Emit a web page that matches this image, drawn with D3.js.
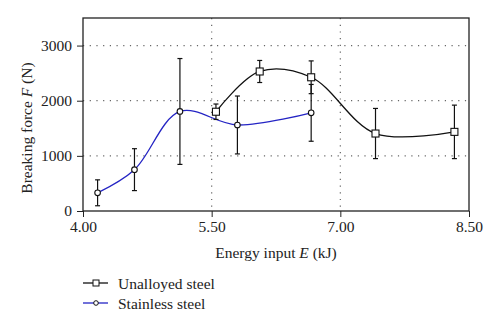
<!DOCTYPE html>
<html>
<head>
<meta charset="utf-8">
<script src="https://cdn.jsdelivr.net/npm/d3@7"></script>
<style>
  body { margin: 0; background: #fff; }
  svg { font-family: "Liberation Serif", "DejaVu Serif", serif; }
</style>
</head>
<body>
<div id="chart"></div>
<script>
// energy input (kJ) and breaking force (N)
var unalloyedE = [5.55, 6.06, 6.66, 7.41, 8.33];
var unalloyedF = [1800, 2530, 2425, 1405, 1435];
var unalloyedErr = [140, 200, 297, 455, 485];

var stainlessE = [4.17, 4.60, 5.13, 5.80, 6.66];
var stainlessF = [330, 750, 1805, 1560, 1780];
var stainlessErr = [235, 380, 960, 525, 515];

var xTicks = [4.0, 5.5, 7.0, 8.5];
var yTicks = [0, 1000, 2000, 3000];
var seriesNames = ['Unalloyed steel', 'Stainless steel'];

var W = 500, H = 326;
var margin = {top: 18, right: 31, bottom: 115, left: 83};
var w = W - margin.left - margin.right;
var h = H - margin.top - margin.bottom;

var svg = d3.select('#chart').append('svg')
  .attr('width', W)
  .attr('height', H);

var g = svg.append('g')
  .attr('transform', 'translate(' + margin.left + ',' + margin.top + ')');

var x = d3.scaleLinear().domain([4, 8.5]).range([0, w]);
var y = d3.scaleLinear().domain([0, 3500]).range([h, 0]);

// dotted grid
g.selectAll('.hgrid').data(yTicks.slice(1)).enter().append('line')
  .attr('x1', 0).attr('x2', w)
  .attr('y1', function(d) { return y(d); })
  .attr('y2', function(d) { return y(d); })
  .attr('stroke', '#666').attr('stroke-width', 1.2)
  .attr('stroke-dasharray', '1.2,5.5');
g.selectAll('.vgrid').data(xTicks.slice(1, 3)).enter().append('line')
  .attr('y1', 0).attr('y2', h)
  .attr('x1', function(d) { return x(d); })
  .attr('x2', function(d) { return x(d); })
  .attr('stroke', '#666').attr('stroke-width', 1.2)
  .attr('stroke-dasharray', '1.2,5.5');

// axes
var xAxis = d3.axisBottom(x).tickValues(xTicks).tickFormat(d3.format('.2f'))
  .tickSizeInner(6).tickSizeOuter(0).tickPadding(4);
var yAxis = d3.axisLeft(y).tickValues(yTicks).tickFormat(d3.format('d'))
  .tickSizeInner(6).tickSizeOuter(0).tickPadding(5);

g.append('g').attr('transform', 'translate(0,' + h + ')').call(xAxis);
g.append('g').call(yAxis);
g.selectAll('.tick text').attr('font-size', 15.5).attr('fill', '#222')
  .attr('font-family', '"Liberation Serif", serif');
g.selectAll('.domain').remove();
g.selectAll('.tick line').attr('stroke', '#222');

g.append('rect')
  .attr('width', w).attr('height', h)
  .attr('fill', 'none').attr('stroke', '#222').attr('stroke-width', 1.3);

// axis titles
var xt = svg.append('text')
  .attr('x', margin.left + w / 2).attr('y', 258)
  .attr('text-anchor', 'middle').attr('font-size', 15.5).attr('fill', '#222');
xt.append('tspan').text('Energy input ');
xt.append('tspan').attr('font-style', 'italic').text('E');
xt.append('tspan').text(' (kJ)');

var yt = svg.append('text')
  .attr('transform', 'translate(32,128) rotate(-90)')
  .attr('text-anchor', 'middle').attr('font-size', 15.5).attr('fill', '#222');
yt.append('tspan').text('Breaking force ');
yt.append('tspan').attr('font-style', 'italic').text('F');
yt.append('tspan').text(' (N)');

var line = d3.line()
  .x(function(d) { return x(d[0]); })
  .y(function(d) { return y(d[1]); })
  .curve(d3.curveCatmullRom.alpha(0.5));

function drawSeries(E, F, err, color) {
  var pts = E.map(function(e, i) { return [e, F[i], err[i]]; });
  g.append('path').datum(pts)
    .attr('d', line)
    .attr('fill', 'none').attr('stroke', color).attr('stroke-width', 1.3);
  var eb = g.append('g');
  pts.forEach(function(p) {
    var cx = x(p[0]), top = y(p[1] + p[2]), bot = y(p[1] - p[2]);
    eb.append('line').attr('x1', cx).attr('x2', cx).attr('y1', top).attr('y2', bot)
      .attr('stroke', '#111').attr('stroke-width', 1.2);
    [top, bot].forEach(function(yy) {
      eb.append('line').attr('x1', cx - 2.5).attr('x2', cx + 2.5).attr('y1', yy).attr('y2', yy)
        .attr('stroke', '#111').attr('stroke-width', 1.2);
    });
  });
  return pts;
}

function drawMarkers(pts, marker) {
  pts.forEach(function(p) {
    var cx = x(p[0]), cy = y(p[1]);
    if (marker === 'square') {
      g.append('rect').attr('x', cx - 3.5).attr('y', cy - 3.5)
        .attr('width', 7).attr('height', 7)
        .attr('fill', '#fff').attr('stroke', '#111').attr('stroke-width', 1.1);
    } else {
      g.append('circle').attr('cx', cx).attr('cy', cy).attr('r', 2.8)
        .attr('fill', '#fff').attr('stroke', '#111').attr('stroke-width', 1.1);
    }
  });
}

var blue = '#2424c4';
var sPts = drawSeries(stainlessE, stainlessF, stainlessErr, blue);
var uPts = drawSeries(unalloyedE, unalloyedF, unalloyedErr, '#111');
drawMarkers(sPts, 'circle');
drawMarkers(uPts, 'square');

// legend
var legend = svg.append('g').attr('transform', 'translate(83,283)');
seriesNames.forEach(function(name, i) {
  var row = legend.append('g').attr('transform', 'translate(0,' + (i * 20) + ')');
  row.append('line').attr('x1', 0).attr('x2', 25).attr('y1', 0).attr('y2', 0)
    .attr('stroke', i === 0 ? '#111' : blue).attr('stroke-width', 1.3);
  if (i === 0) {
    row.append('rect').attr('x', 10).attr('y', -3).attr('width', 6).attr('height', 6)
      .attr('fill', '#fff').attr('stroke', '#111').attr('stroke-width', 1);
  } else {
    row.append('circle').attr('cx', 13).attr('cy', 0).attr('r', 2.3)
      .attr('fill', '#fff').attr('stroke', '#111').attr('stroke-width', 1);
  }
  row.append('text').attr('x', 35).attr('y', 5.5)
    .attr('font-size', 15.5).attr('fill', '#222').text(name);
});
</script>
</body>
</html>
